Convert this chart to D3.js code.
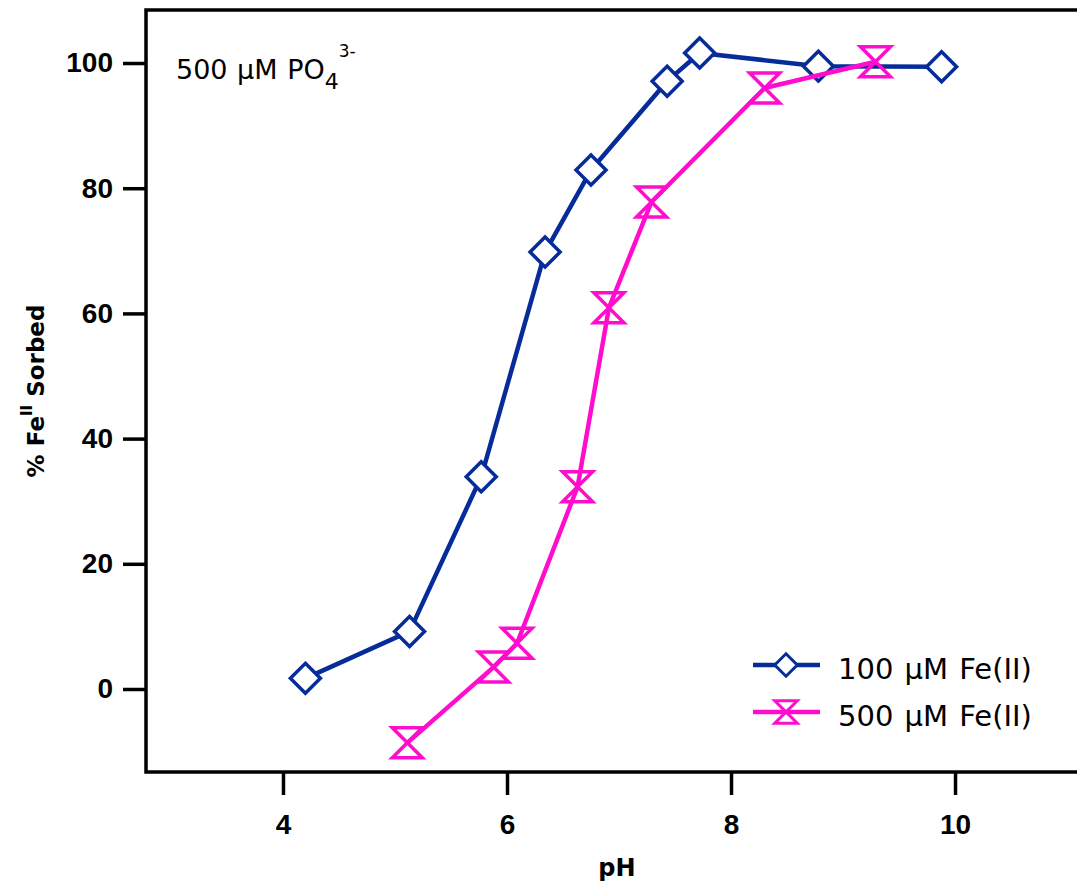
<!DOCTYPE html>
<html>
<head>
<meta charset="utf-8">
<script src="https://cdn.jsdelivr.net/npm/d3@7"></script>
<style>
  body { margin: 0; background: #fff; }
  text { font-family: "DejaVu Sans", Verdana, sans-serif; }
</style>
</head>
<body>
<div id="chart"></div>
<script>
// pH and % sorbed
var ph100 = [4.20, 5.13, 5.77, 6.34, 6.75, 7.43, 7.72, 8.78, 9.88];
var sorb100 = [1.7, 9.2, 33.9, 69.8, 82.9, 97.1, 101.6, 99.5, 99.4];
var ph500 = [5.11, 5.88, 6.09, 6.63, 6.91, 7.29, 8.30, 9.29];
var sorb500 = [-8.6, 3.5, 7.3, 32.3, 60.9, 77.8, 96.0, 100.2];
var xTicks = [4, 6, 8, 10];
var yTicks = [0, 20, 40, 60, 80, 100];
var seriesNames = ['100 µM Fe(II)', '500 µM Fe(II)'];

var width = 1077;
var height = 884;
var blue = '#062c99';
var pink = '#ff0ccc';

var svg = d3.select('#chart')
  .append('svg')
  .attr('width', width)
  .attr('height', height);

var x = d3.scaleLinear().domain([2.777, 11.089]).range([146, 1077]);
var y = d3.scaleLinear().domain([-13.26, 108.47]).range([772, 10]);

// frame (right side runs off the picture)
svg.append('rect')
  .attr('x', 146)
  .attr('y', 10)
  .attr('width', 940)
  .attr('height', 762)
  .attr('fill', 'none')
  .attr('stroke', '#000')
  .attr('stroke-width', 3.5);

var xAxis = svg.append('g')
  .attr('transform', 'translate(0,772)')
  .call(d3.axisBottom(x).tickValues(xTicks).tickSize(23).tickPadding(19));
var yAxis = svg.append('g')
  .attr('transform', 'translate(146,0)')
  .call(d3.axisLeft(y).tickValues(yTicks).tickSize(23).tickPadding(10));

[xAxis, yAxis].forEach(function(g) {
  g.select('.domain').remove();
  g.selectAll('.tick line').attr('stroke', '#000').attr('stroke-width', 3.5);
  g.selectAll('.tick text')
    .attr('fill', '#000')
    .style('font-size', '28px')
    .style('font-weight', 'bold')
    .style('font-family', '"Liberation Sans", Arial, sans-serif');
});

// axis titles
svg.append('text')
  .attr('x', 617)
  .attr('y', 876)
  .attr('text-anchor', 'middle')
  .style('font-size', '24px')
  .style('font-weight', 'bold')
  .text('pH');

var ylab = svg.append('text')
  .attr('transform', 'translate(44,391) rotate(-90)')
  .attr('text-anchor', 'middle')
  .style('font-size', '23px')
  .style('font-weight', 'bold');
ylab.append('tspan').text('% Fe');
ylab.append('tspan').attr('dy', -12).style('font-size', '15px').text('II');
ylab.append('tspan').attr('dy', 12).text(' Sorbed');

// annotation
var note = svg.append('text')
  .attr('x', 176)
  .attr('y', 79)
  .style('font-size', '27px')
  .style('word-spacing', '1px');
note.append('tspan').text('500 µM PO');
note.append('tspan').attr('dy', 10).style('font-size', '22px').text('4');
note.append('tspan').attr('dy', -32).style('font-size', '17px').text('3-');

var diamond = 'M0,-15L15,0L0,15L-15,0Z';
var hourglass = 'M-15,-15L15,-15L-15,15L15,15Z';

var line = d3.line()
  .x(function(d) { return x(d[0]); })
  .y(function(d) { return y(d[1]); });

var series = [
  { pts: d3.zip(ph100, sorb100), color: blue, shape: diamond, fill: '#fff' },
  { pts: d3.zip(ph500, sorb500), color: pink, shape: hourglass, fill: 'none' }
];

series.forEach(function(s) {
  svg.append('path')
    .attr('d', line(s.pts))
    .attr('fill', 'none')
    .attr('stroke', s.color)
    .attr('stroke-width', 4.5)
    .attr('stroke-linejoin', 'round');

  svg.selectAll(null)
    .data(s.pts)
    .enter()
    .append('path')
    .attr('d', s.shape)
    .attr('transform', function(d) { return 'translate(' + x(d[0]) + ',' + y(d[1]) + ')'; })
    .attr('fill', s.fill)
    .attr('stroke', s.color)
    .attr('stroke-width', 3.5)
    .attr('stroke-linejoin', 'miter');
});

// legend
var legend = svg.selectAll('.legend')
  .data(series)
  .enter()
  .append('g')
  .attr('class', 'legend')
  .attr('transform', function(d, i) { return 'translate(753,' + (665 + i * 47) + ')'; });

legend.append('line')
  .attr('x1', 0)
  .attr('x2', 67)
  .attr('stroke', function(d) { return d.color; })
  .attr('stroke-width', 4.5);

legend.append('path')
  .attr('d', function(d) { return d.shape; })
  .attr('transform', 'translate(33,0) scale(0.75)')
  .attr('fill', function(d) { return d.fill; })
  .attr('stroke', function(d) { return d.color; })
  .attr('stroke-width', 4);

legend.append('text')
  .attr('x', 85)
  .attr('y', 14)
  .style('font-size', '29px')
  .style('word-spacing', '2px')
  .text(function(d, i) { return seriesNames[i]; });
</script>
</body>
</html>
